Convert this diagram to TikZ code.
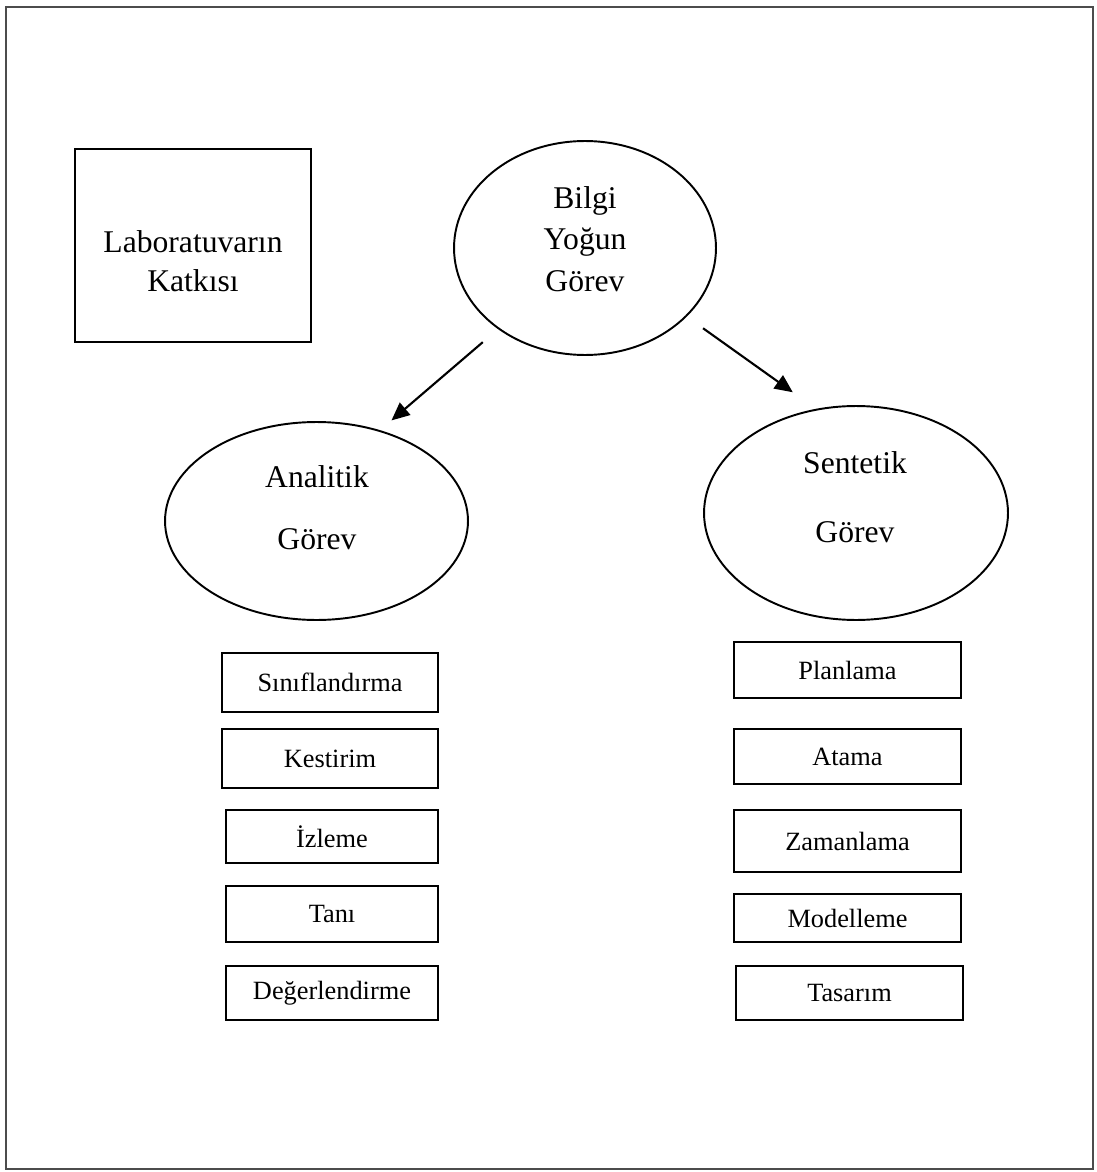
\documentclass[tikz,border=0pt]{standalone}
\usepackage{fontspec}
\setmainfont{Liberation Serif}
\usetikzlibrary{shapes.geometric,arrows.meta}

\begin{document}
\begin{tikzpicture}[x=0.02cm, y=-0.02cm,
    oval/.style={draw, ellipse, line width=1.1pt, inner sep=0pt},
    kutu/.style={draw, rectangle, line width=1.1pt, inner sep=0pt, font=\fontsize{15}{18}\selectfont},
    yazi/.style={align=center, inner sep=0pt},
    ok/.style={-{Triangle[length=3.6mm, width=3.2mm]}, line width=1.2pt}]
    \useasboundingbox (0, 0) rectangle (1096, 1172);

    % Frame
    \draw[line width=1pt, black!70] (6, 7) rectangle (1093, 1169);

    % Laboratuvar box
    \node[draw, line width=1.1pt, minimum width=4.72cm, minimum height=3.86cm] (lab) at (193, 245.5) {};
    \node[yazi, font=\fontsize{18}{22.1}\selectfont] (labyazi) at (193, 261.5) {Laboratuvarın\\Katkısı};

    % Ellipses
    \node[oval, minimum width=5.24cm, minimum height=4.28cm] (bilgi) at (585, 248) {};
    \node[yazi, font=\fontsize{18}{23.8}\selectfont] (bilgiyazi) at (585, 239) {Bilgi\\Yoğun\\Görev};

    \node[oval, minimum width=6.06cm, minimum height=3.96cm] (analitik) at (316.5, 521) {};
    \node[yazi, font=\fontsize{18}{35.2}\selectfont] (analitikyazi) at (317, 508) {Analitik\\Görev};

    \node[oval, minimum width=6.08cm, minimum height=4.28cm] (sentetik) at (856, 513) {};
    \node[yazi, font=\fontsize{18}{39.3}\selectfont] (sentetikyazi) at (855, 497) {Sentetik\\Görev};

    % Arrows
    \draw[ok, shorten <=0.4cm, shorten >=0.3cm] (bilgi.223) -- (analitik.55);
    \draw[ok, shorten <=0.4cm, shorten >=0.57cm] (bilgi.326) -- (sentetik.111);

    % Analitik tasks
    \foreach \nm/\px/\py/\bw/\bh/\lbl in {
        s1/330/682.5/4.32cm/1.18cm/Sınıflandırma,
        s2/330/758.5/4.32cm/1.18cm/Kestirim,
        s3/332/836.5/4.24cm/1.06cm/İzleme,
        s4/332/914/4.24cm/1.12cm/Tanı,
        s5/332/993/4.24cm/1.08cm/Değerlendirme} {
        \node[kutu, minimum width=\bw, minimum height=\bh] (\nm) at (\px, \py) {\lbl};
    }

    % Sentetik tasks
    \foreach \nm/\px/\py/\bw/\bh/\lbl in {
        r1/847.5/670/4.54cm/1.12cm/Planlama,
        r2/847.5/756.5/4.54cm/1.10cm/Atama,
        r3/847.5/841/4.54cm/1.24cm/Zamanlama,
        r4/847.5/918/4.54cm/0.96cm/Modelleme,
        r5/849.5/993/4.54cm/1.08cm/Tasarım} {
        \node[kutu, minimum width=\bw, minimum height=\bh] (\nm) at (\px, \py) {\lbl};
    }
\end{tikzpicture}
\end{document}
